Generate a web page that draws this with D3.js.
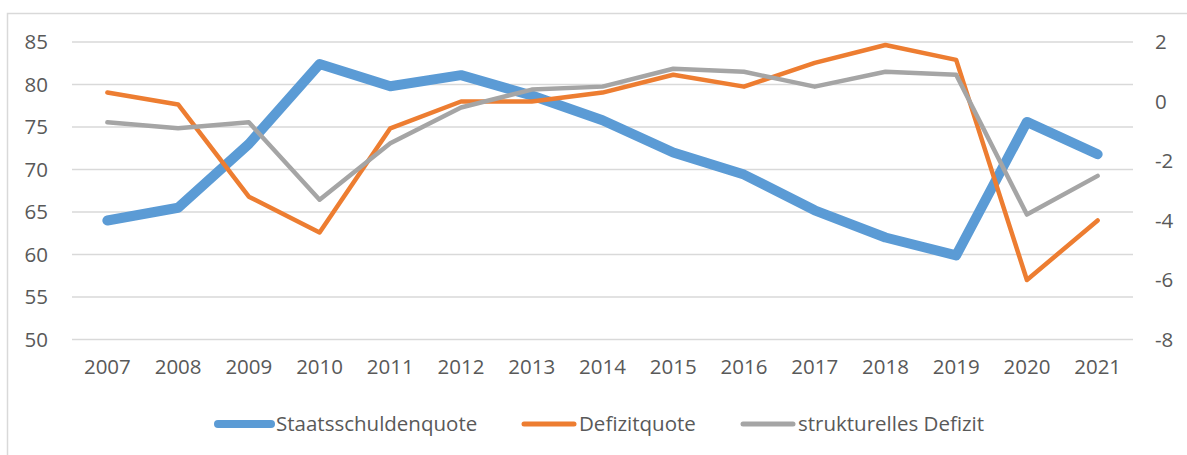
<!DOCTYPE html>
<html>
<head>
<meta charset="utf-8">
<script src="https://cdn.jsdelivr.net/npm/d3@7"></script>
<style>
  html, body { margin: 0; padding: 0; background: #fff; }
  svg { display: block; }
  text { font-family: "Open Sans", "Noto Sans", sans-serif; fill: #595959; }
</style>
</head>
<body>
<svg id="chart" width="1187" height="455"></svg>
<script>
const years = ["2007","2008","2009","2010","2011","2012","2013","2014","2015","2016","2017","2018","2019","2020","2021"];
const staatsschuldenquote = [64.0, 65.5, 73.0, 82.4, 79.8, 81.1, 78.7, 75.8, 72.0, 69.4, 65.2, 62.0, 59.9, 75.6, 71.8];
const defizitquote = [0.3, -0.1, -3.2, -4.4, -0.9, 0.0, 0.0, 0.3, 0.9, 0.5, 1.3, 1.9, 1.4, -6.0, -4.0];
const strukturellesDefizit = [-0.7, -0.9, -0.7, -3.3, -1.4, -0.2, 0.4, 0.5, 1.1, 1.0, 0.5, 1.0, 0.9, -3.8, -2.5];
const leftTicks = [50, 55, 60, 65, 70, 75, 80, 85];
const rightTicks = [-8, -6, -4, -2, 0, 2];
const seriesNames = ["Staatsschuldenquote", "Defizitquote", "strukturelles Defizit"];

const colors = ["#5B9BD5", "#ED7D31", "#A5A5A5"];
const widths = [10, 4.5, 4.5];

const svg = d3.select("#chart");

// outer frame
svg.append("rect")
  .attr("x", 7.5).attr("y", 13.5)
  .attr("width", 1300).attr("height", 600)
  .attr("fill", "none").attr("stroke", "#D9D9D9").attr("stroke-width", 1.5);

const x = d3.scaleBand().domain(years).range([72, 1133]).padding(0);
const yL = d3.scaleLinear().domain([50, 85]).range([339.5, 42]);
const yR = d3.scaleLinear().domain([-8, 2]).range([339.5, 42]);

// gridlines
svg.append("g").selectAll("line").data(leftTicks).join("line")
  .attr("x1", 72).attr("x2", 1133)
  .attr("y1", d => yL(d)).attr("y2", d => yL(d))
  .attr("stroke", "#D9D9D9").attr("stroke-width", 1.5);

const styleTicks = g => {
  g.select(".domain").remove();
  g.selectAll("text").attr("font-size", 20.5).attr("fill", "#595959")
    .style("font-family", '"Open Sans", sans-serif');
};

// left axis labels
const leftAxis = d3.axisLeft(yL).tickValues(leftTicks).tickSize(0).tickPadding(0);
svg.append("g").attr("transform", "translate(48,0)").call(leftAxis).call(styleTicks);

// right axis labels (hyphen-minus like the original)
const rightAxis = d3.axisRight(yR).tickValues(rightTicks).tickFormat(d => String(d)).tickSize(0).tickPadding(0);
svg.append("g").attr("transform", "translate(1155,0)").call(rightAxis).call(styleTicks);

// x axis labels
const xAxis = d3.axisBottom(x).tickSize(0).tickPadding(0);
svg.append("g").attr("transform", "translate(0,359)").call(xAxis).call(styleTicks);

const cx = d => x(d) + x.bandwidth() / 2;

const seriesData = [
  { vals: staatsschuldenquote, y: yL },
  { vals: defizitquote, y: yR },
  { vals: strukturellesDefizit, y: yR }
];

seriesData.forEach((s, i) => {
  const line = d3.line().x((d, j) => cx(years[j])).y(d => s.y(d));
  svg.append("path")
    .datum(s.vals)
    .attr("d", line)
    .attr("fill", "none")
    .attr("stroke", colors[i])
    .attr("stroke-width", widths[i])
    .attr("stroke-linejoin", "round")
    .attr("stroke-linecap", "round");
});

// legend
const legendX = [216, 522, 741];
const legendLen = [57, 54, 54];
const legendW = [8, 5, 5];
const legendY = 424;
const lg = svg.append("g");
seriesNames.forEach((name, i) => {
  lg.append("line")
    .attr("x1", legendX[i] + 2).attr("x2", legendX[i] + legendLen[i] - 2)
    .attr("y1", legendY).attr("y2", legendY)
    .attr("stroke", colors[i]).attr("stroke-width", legendW[i])
    .attr("stroke-linecap", "round");
  lg.append("text")
    .attr("x", legendX[i] + legendLen[i] + 3)
    .attr("y", legendY)
    .attr("dy", "0.35em")
    .attr("font-size", 20.5)
    .text(name);
});
</script>
</body>
</html>
